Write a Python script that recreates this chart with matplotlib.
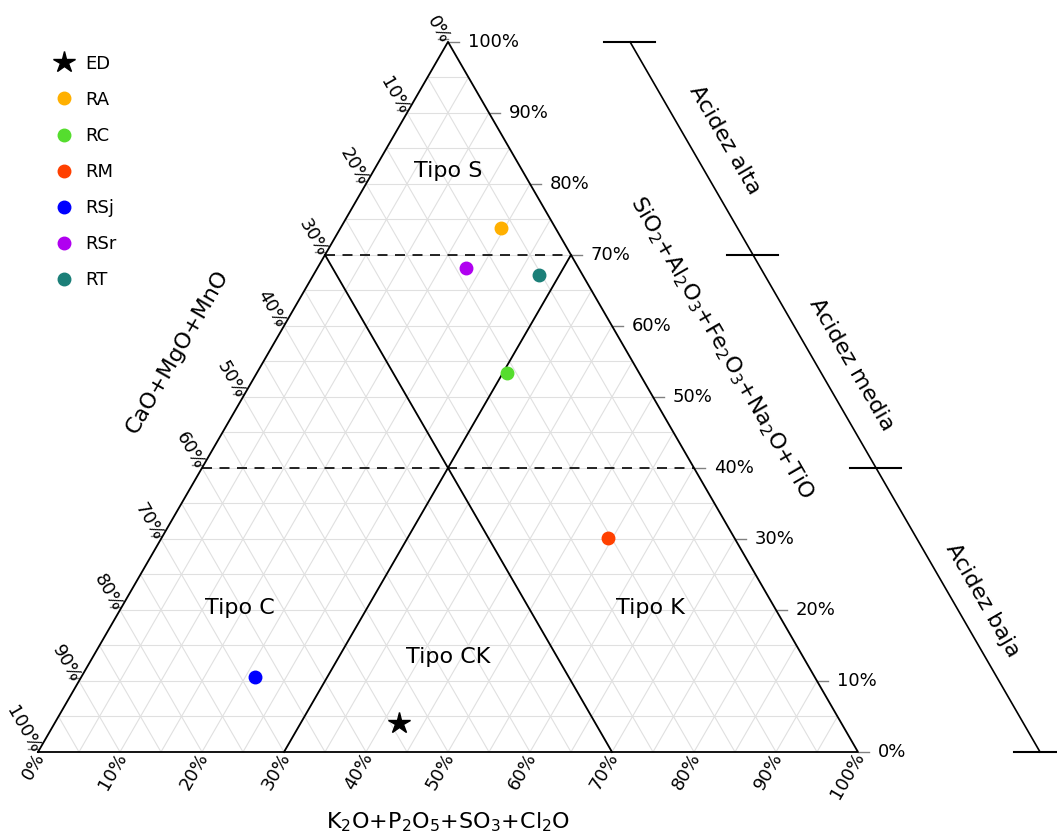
import numpy as np
import matplotlib.pyplot as plt

plt.rcParams.update({'font.family': 'DejaVu Sans'})

# Samples: SiO2 group (top), K2O group (bottom right), CaO group = rest
names = ['ED', 'RA', 'RC', 'RM', 'RSj', 'RSr', 'RT']
sio2 = [4.1, 73.8, 53.4, 30.1, 10.5, 68.1, 67.1]
k2o = [42.0, 19.6, 30.5, 54.5, 21.2, 18.2, 27.6]
markers = ['*', 'o', 'o', 'o', 'o', 'o', 'o']
colors = ['black', '#ffb000', '#55dd2e', '#ff4000', '#0000ff', '#b000f0', '#1b7f78']

ticks = np.arange(0, 101, 10)
grid = np.arange(5, 100, 5)
acid_limits = [100, 70, 40, 0]
acid_names = ['Acidez alta', 'Acidez media', 'Acidez baja']

S3 = np.sqrt(3) / 2


def tern(t, k):
    # t = top fraction, k = bottom-right fraction
    t = np.asarray(t, dtype=float)
    k = np.asarray(k, dtype=float)
    return k + t / 2, t * S3


fig = plt.figure(figsize=(10.57, 8.34), dpi=100)
ax = fig.add_axes([0, 0, 1, 1])
ax.set_xlim(-38 / 820, 1019 / 820)
ax.set_ylim(-82 / 820, 752 / 820)
ax.axis('off')

# grid every 5%
gc = '#e0e0e0'
for g in grid / 100:
    x, y = tern([g, g], [0, 1 - g])
    ax.plot(x, y, color=gc, lw=0.8, zorder=1)
    x, y = tern([0, 1 - g], [g, g])
    ax.plot(x, y, color=gc, lw=0.8, zorder=1)
    x, y = tern([0, 1 - g], [1 - g, 0])
    ax.plot(x, y, color=gc, lw=0.8, zorder=1)

# triangle
x, y = tern([0, 0, 1, 0], [0, 1, 0, 0])
ax.plot(x, y, color='black', lw=1.3, zorder=3)

# field boundaries
x, y = tern([0.7, 0], [0, 0.7])
ax.plot(x, y, color='black', lw=1.3, zorder=3)
x, y = tern([0.7, 0], [0.3, 0.3])
ax.plot(x, y, color='black', lw=1.3, zorder=3)
for t in [0.7, 0.4]:
    x, y = tern([t, t], [0, 1 - t])
    ax.plot(x, y, color='black', lw=1.2, ls=(0, (6, 4.5)), zorder=3)

# tick labels
for v in ticks:
    f = v / 100
    lab = '%d%%' % v
    # right: top component
    x, y = tern(f, 1 - f)
    ax.plot([x, x + 0.013], [y, y], color='gray', lw=1)
    ax.text(x + 0.024, y, lab, fontsize=13, ha='left', va='center')
    # left: CaO component
    x, y = tern(1 - f, 0)
    ax.plot([x - 0.012, x], [y + 0.004, y + 0.004], color='gray', lw=1)
    ax.text(x - 0.003, y, lab, fontsize=13, ha='right', va='center',
            rotation=-60, rotation_mode='anchor')
    # bottom: K2O component
    x, y = tern(0, f)
    ax.text(x + 0.003, y - 0.002, lab, fontsize=13, ha='right', va='center',
            rotation=60, rotation_mode='anchor')

# axis titles
ax.text(0.5, -0.0854, 'K$_2$O+P$_2$O$_5$+SO$_3$+Cl$_2$O', fontsize=16,
        ha='center', va='center')
ax.text(0.1695, 0.4878, 'CaO+MgO+MnO', fontsize=16, ha='center', va='center',
        rotation=60)
ax.text(0.834, 0.4927, 'SiO$_2$+Al$_2$O$_3$+Fe$_2$O$_3$+Na$_2$O+TiO',
        fontsize=16, ha='center', va='center', rotation=-60)

# field names
ax.text(0.5, 0.7085, 'Tipo S', fontsize=16, ha='center', va='center')
ax.text(0.2463, 0.1756, 'Tipo C', fontsize=16, ha='center', va='center')
ax.text(0.7463, 0.1756, 'Tipo K', fontsize=16, ha='center', va='center')
ax.text(0.5, 0.1159, 'Tipo CK', fontsize=16, ha='center', va='center')

# acidity scale
off = 0.222
lim = np.array(acid_limits) / 100
bx = 1 + off - lim / 2
by = lim * S3
ax.plot(bx, by, color='black', lw=1.2)
for xx, yy in zip(bx, by):
    ax.plot([xx - 0.032, xx + 0.03], [yy, yy], color='black', lw=1.5)
label_t = [0.862, 0.545, 0.213]
label_off = [0.047, 0.042, 0.036]
for name, tm, dx in zip(acid_names, label_t, label_off):
    ax.text(1 + off - tm / 2 + dx, tm * S3, name, fontsize=16,
            ha='center', va='center', rotation=-60)

# samples
for n, t, k, m, c in zip(names, sio2, k2o, markers, colors):
    x, y = tern(t / 100, k / 100)
    ms = 16 if m == '*' else 9
    ax.plot(x, y, marker=m, color=c, ms=ms, ls='none', label=n, zorder=5)

ax.legend(loc='upper left', bbox_to_anchor=(0.045, 0.943), frameon=False,
          fontsize=13, handlelength=1.0, handletextpad=0.7,
          labelspacing=1.0, borderaxespad=0)

fig.savefig('out.png', dpi=100)
